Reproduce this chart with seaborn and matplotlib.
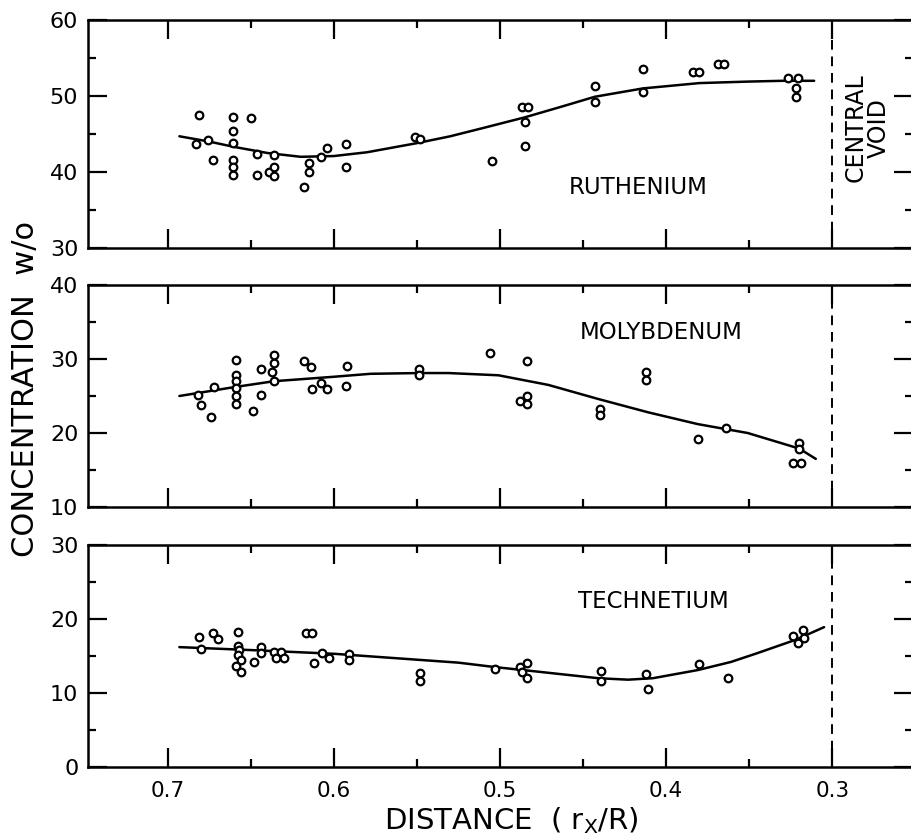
import matplotlib
matplotlib.use("Agg")
import matplotlib.pyplot as plt
import seaborn as sns
from matplotlib.ticker import FixedLocator, MultipleLocator

# ---------------- data ----------------
ru_x = [0.681, 0.683, 0.676, 0.673, 0.661, 0.661, 0.661, 0.661, 0.661, 0.661,
        0.650, 0.646, 0.646, 0.639, 0.636, 0.636, 0.636, 0.618, 0.615, 0.615,
        0.608, 0.604, 0.593, 0.593, 0.551, 0.548, 0.505, 0.485, 0.485, 0.487,
        0.483, 0.443, 0.443, 0.414, 0.414, 0.384, 0.380, 0.369, 0.365, 0.327,
        0.321, 0.322, 0.322]
ru_y = [47.5, 43.7, 44.2, 41.6, 47.2, 45.4, 43.8, 41.6, 40.7, 39.6,
        47.1, 42.4, 39.6, 40.0, 42.2, 40.7, 39.5, 38.0, 41.2, 40.0,
        42.0, 43.2, 43.7, 40.7, 44.6, 44.3, 41.4, 43.4, 46.6, 48.5,
        48.5, 51.3, 49.2, 53.6, 50.5, 53.2, 53.2, 54.2, 54.2, 52.4,
        52.4, 51.0, 49.9]
ru_fit_x = [0.693, 0.675, 0.66, 0.64, 0.62, 0.60, 0.58, 0.55, 0.53, 0.51,
            0.485, 0.463, 0.443, 0.414, 0.38, 0.35, 0.33, 0.311]
ru_fit_y = [44.7, 44.0, 43.3, 42.5, 42.0, 42.1, 42.6, 43.8, 44.7, 45.8,
            47.2, 48.6, 49.9, 51.0, 51.7, 51.9, 52.0, 52.0]

mo_x = [0.682, 0.680, 0.672, 0.674, 0.659, 0.659, 0.659, 0.659, 0.659, 0.659,
        0.649, 0.644, 0.644, 0.637, 0.636, 0.636, 0.636, 0.618, 0.614, 0.613,
        0.608, 0.604, 0.592, 0.593, 0.549, 0.549, 0.506, 0.484, 0.488, 0.484,
        0.484, 0.440, 0.440, 0.412, 0.412, 0.381, 0.364, 0.320, 0.320, 0.324,
        0.319]
mo_y = [25.1, 23.8, 26.2, 22.1, 29.9, 27.9, 27.0, 26.1, 25.0, 23.9,
        23.0, 28.6, 25.1, 28.3, 29.5, 30.5, 27.0, 29.7, 28.9, 25.9,
        26.8, 25.9, 29.1, 26.3, 28.6, 27.8, 30.8, 29.7, 24.3, 25.0,
        23.9, 23.3, 22.4, 28.3, 27.2, 19.2, 20.7, 18.6, 17.8, 15.9,
        15.9]
mo_fit_x = [0.693, 0.66, 0.636, 0.60, 0.578, 0.549, 0.531, 0.501, 0.471,
            0.441, 0.411, 0.381, 0.351, 0.320, 0.310]
mo_fit_y = [25.0, 26.2, 27.0, 27.6, 28.0, 28.1, 28.1, 27.8, 26.5,
            24.6, 22.8, 21.2, 20.0, 17.9, 16.5]

tc_x = [0.681, 0.680, 0.673, 0.670, 0.658, 0.658, 0.657, 0.658, 0.656, 0.659,
        0.656, 0.648, 0.644, 0.644, 0.636, 0.632, 0.635, 0.630, 0.617, 0.613,
        0.612, 0.607, 0.603, 0.591, 0.591, 0.548, 0.548, 0.503, 0.488, 0.484,
        0.487, 0.484, 0.439, 0.439, 0.412, 0.411, 0.380, 0.363, 0.324, 0.318,
        0.321, 0.317]
tc_y = [17.6, 16.0, 18.1, 17.3, 18.2, 16.4, 15.8, 15.1, 14.5, 13.6,
        12.8, 14.2, 16.2, 15.4, 15.5, 15.5, 14.7, 14.7, 18.1, 18.1,
        14.1, 15.4, 14.7, 15.3, 14.5, 12.7, 11.6, 13.2, 13.5, 14.1,
        12.8, 12.0, 13.0, 11.6, 12.6, 10.5, 13.9, 12.0, 17.7, 18.5,
        16.8, 17.4]
tc_fit_x = [0.693, 0.65, 0.60, 0.525, 0.503, 0.482, 0.441, 0.423, 0.408,
            0.381, 0.361, 0.345, 0.322, 0.305]
tc_fit_y = [16.2, 15.8, 15.3, 14.1, 13.5, 13.0, 12.0, 11.8, 12.0,
            13.1, 14.2, 15.4, 17.2, 18.9]

element_names = ["RUTHENIUM", "MOLYBDENUM", "TECHNETIUM"]
y_ranges = [(30, 60), (10, 40), (0, 30)]
x_major = [0.7, 0.6, 0.5, 0.4, 0.3]
x_major_labels = ["0.7", "0.6", "0.5", "0.4", "0.3"]
x_minor = [0.65, 0.55, 0.45, 0.35]
void_x = 0.3

# ---------------- figure ----------------
sns.set_style("ticks")
plt.rcParams["font.family"] = ["DejaVu Sans"]
plt.rcParams["text.color"] = "black"
plt.rcParams["axes.labelcolor"] = "black"
plt.rcParams["xtick.color"] = "black"
plt.rcParams["ytick.color"] = "black"

fig = plt.figure(figsize=(9.11, 8.38), dpi=100)
W, H = 911.0, 838.0
left_px, right_px = 88, 913
panel_px = [(20, 248), (285, 507), (545, 767)]
label_pos = [(0.417, 37.9), (0.403, 33.6), (0.408, 22.3)]

datasets = [(ru_x, ru_y, ru_fit_x, ru_fit_y),
            (mo_x, mo_y, mo_fit_x, mo_fit_y),
            (tc_x, tc_y, tc_fit_x, tc_fit_y)]

axes = []
for i, ((top, bot), (px, py, fx, fy)) in enumerate(zip(panel_px, datasets)):
    ax = fig.add_axes([left_px / W, 1 - bot / H, (right_px - left_px) / W, (bot - top) / H])
    axes.append(ax)
    sns.lineplot(x=fx, y=fy, ax=ax, color="black", linewidth=1.8,
                 sort=False, estimator=None, zorder=2)
    sns.scatterplot(x=px, y=py, ax=ax, marker="o", s=30, color="white",
                    edgecolor="black", linewidth=1.6, zorder=3)
    ax.axvline(void_x, color="black", linestyle=(0, (5, 3.5)), linewidth=1.4, zorder=1)
    ax.set_xlim(0.748, 0.2515)
    ax.set_ylim(*y_ranges[i])
    ax.xaxis.set_major_locator(FixedLocator(x_major))
    ax.xaxis.set_minor_locator(FixedLocator(x_minor))
    ax.yaxis.set_major_locator(MultipleLocator(10))
    ax.yaxis.set_minor_locator(MultipleLocator(5))
    ax.tick_params(which="both", direction="in", top=True, right=True,
                   bottom=True, left=True, width=1.6, colors="black")
    ax.tick_params(which="major", length=14, labelsize=16, pad=7)
    ax.tick_params(which="minor", length=6)
    for sp in ax.spines.values():
        sp.set_linewidth(1.8)
        sp.set_color("black")
    if i < 2:
        ax.tick_params(labelbottom=False)
    else:
        ax.set_xticks(x_major)
        ax.set_xticklabels(x_major_labels)
        ax.tick_params(axis="x", which="major", labelsize=15.5, pad=10)
    ax.set_xlabel("")
    ax.set_ylabel("")
    lx, ly = label_pos[i]
    ax.text(lx, ly, element_names[i], ha="center", va="center", fontsize=16.5)

axes[0].text(0.279, 45.8, "CENTRAL\nVOID", rotation=90, ha="center", va="center",
             multialignment="center", fontsize=17, linespacing=0.95)

fig.text(26 / W, 1 - 389 / H, "CONCENTRATION  w/o", rotation=90,
         ha="center", va="center", fontsize=22)
fig.text(511 / W, 1 - 821 / H, r"DISTANCE  ( r$_\mathregular{X}$/R)",
         ha="center", va="center", fontsize=21)

fig.savefig("out.png", dpi=100)
